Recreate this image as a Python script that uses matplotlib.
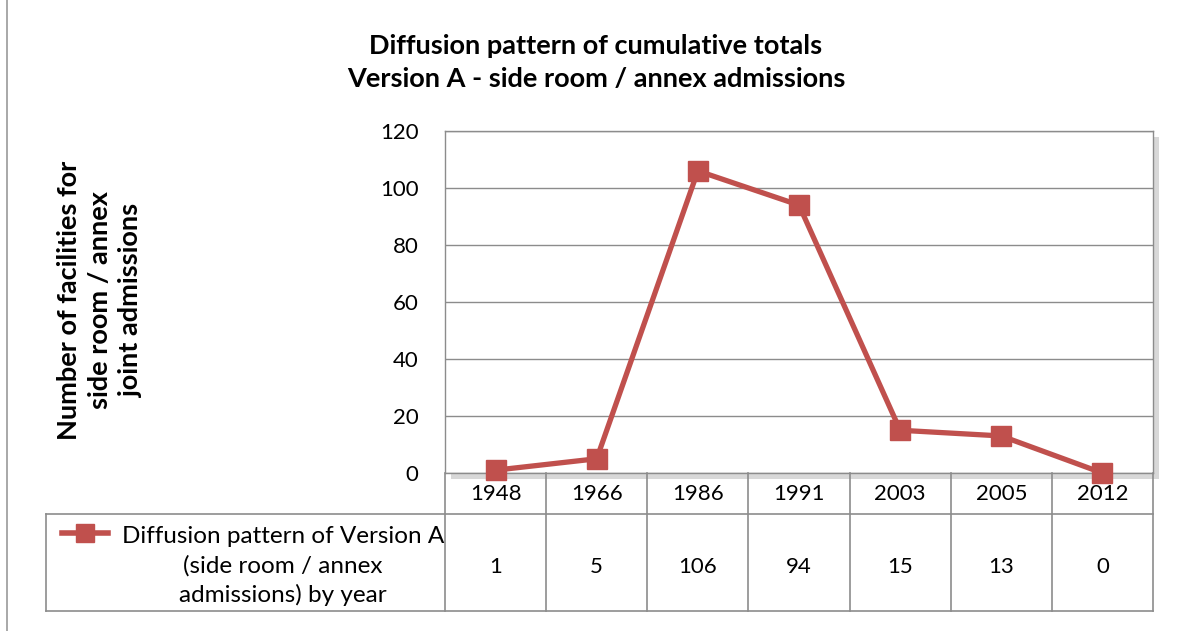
import matplotlib.pyplot as plt
import matplotlib.transforms as mtransforms
from matplotlib import patheffects

plt.rcParams["font.family"] = ["Lato", "DejaVu Sans"]

years = ["1948", "1966", "1986", "1991", "2003", "2005", "2012"]
counts = [1, 5, 106, 94, 15, 13, 0]
series_name = "Diffusion pattern of Version A\n(side room / annex\nadmissions) by year"
title = "Diffusion pattern of cumulative totals\nVersion A - side room / annex admissions"
ylabel = "Number of facilities for\nside room / annex\njoint admissions"

red = "#C0504D"
grid = "#8c8c8c"

fig = plt.figure(figsize=(11.78, 6.31), dpi=100)
ax = fig.add_axes([445 / 1178, 1 - 473 / 631, 708 / 1178, 342 / 631])

ax.patch.set_path_effects([patheffects.withSimplePatchShadow(offset=(4, -4), shadow_rgbFace="#aaaaaa", alpha=0.45)])

xs = list(range(len(years)))
ax.plot(xs, counts, color=red, lw=3.8, marker="s", ms=15, clip_on=False, zorder=5)

ax.set_xlim(-0.5, len(years) - 0.5)
ax.set_ylim(0, 120)
ax.set_yticks(range(0, 121, 20))
ax.tick_params(axis="y", length=0, pad=19, labelsize=16)
ax.set_xticks([])
ax.yaxis.grid(True, color=grid, lw=1)
ax.set_axisbelow(True)
for s in ax.spines.values():
    s.set_color(grid)
    s.set_linewidth(1)

# data table under the plot
tr = mtransforms.blended_transform_factory(ax.transData, ax.transAxes)
row1 = -0.12
row2 = -0.4035
left = -4.445
lk = dict(color=grid, lw=1.2, transform=tr, clip_on=False)
for b in [x - 0.5 for x in xs] + [len(years) - 0.5]:
    ax.plot([b, b], [0, row2], **lk)
ax.plot([left, len(years) - 0.5], [row1, row1], **lk)
ax.plot([left, len(years) - 0.5], [row2, row2], **lk)
ax.plot([left, left], [row1, row2], **lk)

for x, y, v in zip(xs, years, counts):
    ax.text(x, -0.06, y, transform=tr, ha="center", va="center", fontsize=16)
    ax.text(x, -0.275, str(v), transform=tr, ha="center", va="center", fontsize=16)

ax.plot([-4.29, -3.83], [-0.175, -0.175], color=red, lw=4, transform=tr, clip_on=False)
ax.plot([-4.06], [-0.175], color=red, marker="s", ms=13, transform=tr, clip_on=False)
ax.text(-2.10, -0.272, series_name, transform=tr, ha="center", va="center",
        fontsize=17.5, linespacing=1.45)

fig.text(596 / 1178, 1 - 62 / 631, title, ha="center", va="center",
         fontsize=19.5, fontweight="bold", linespacing=1.45)
fig.text(100 / 1178, 1 - 300 / 631, ylabel, ha="center", va="center", rotation=90,
         fontsize=19.5, fontweight="bold", linespacing=1.35)

fig.add_artist(plt.Line2D([7 / 1178, 7 / 1178], [0, 1], color="#999999", lw=1.2))

fig.savefig("out.png", dpi=100)
